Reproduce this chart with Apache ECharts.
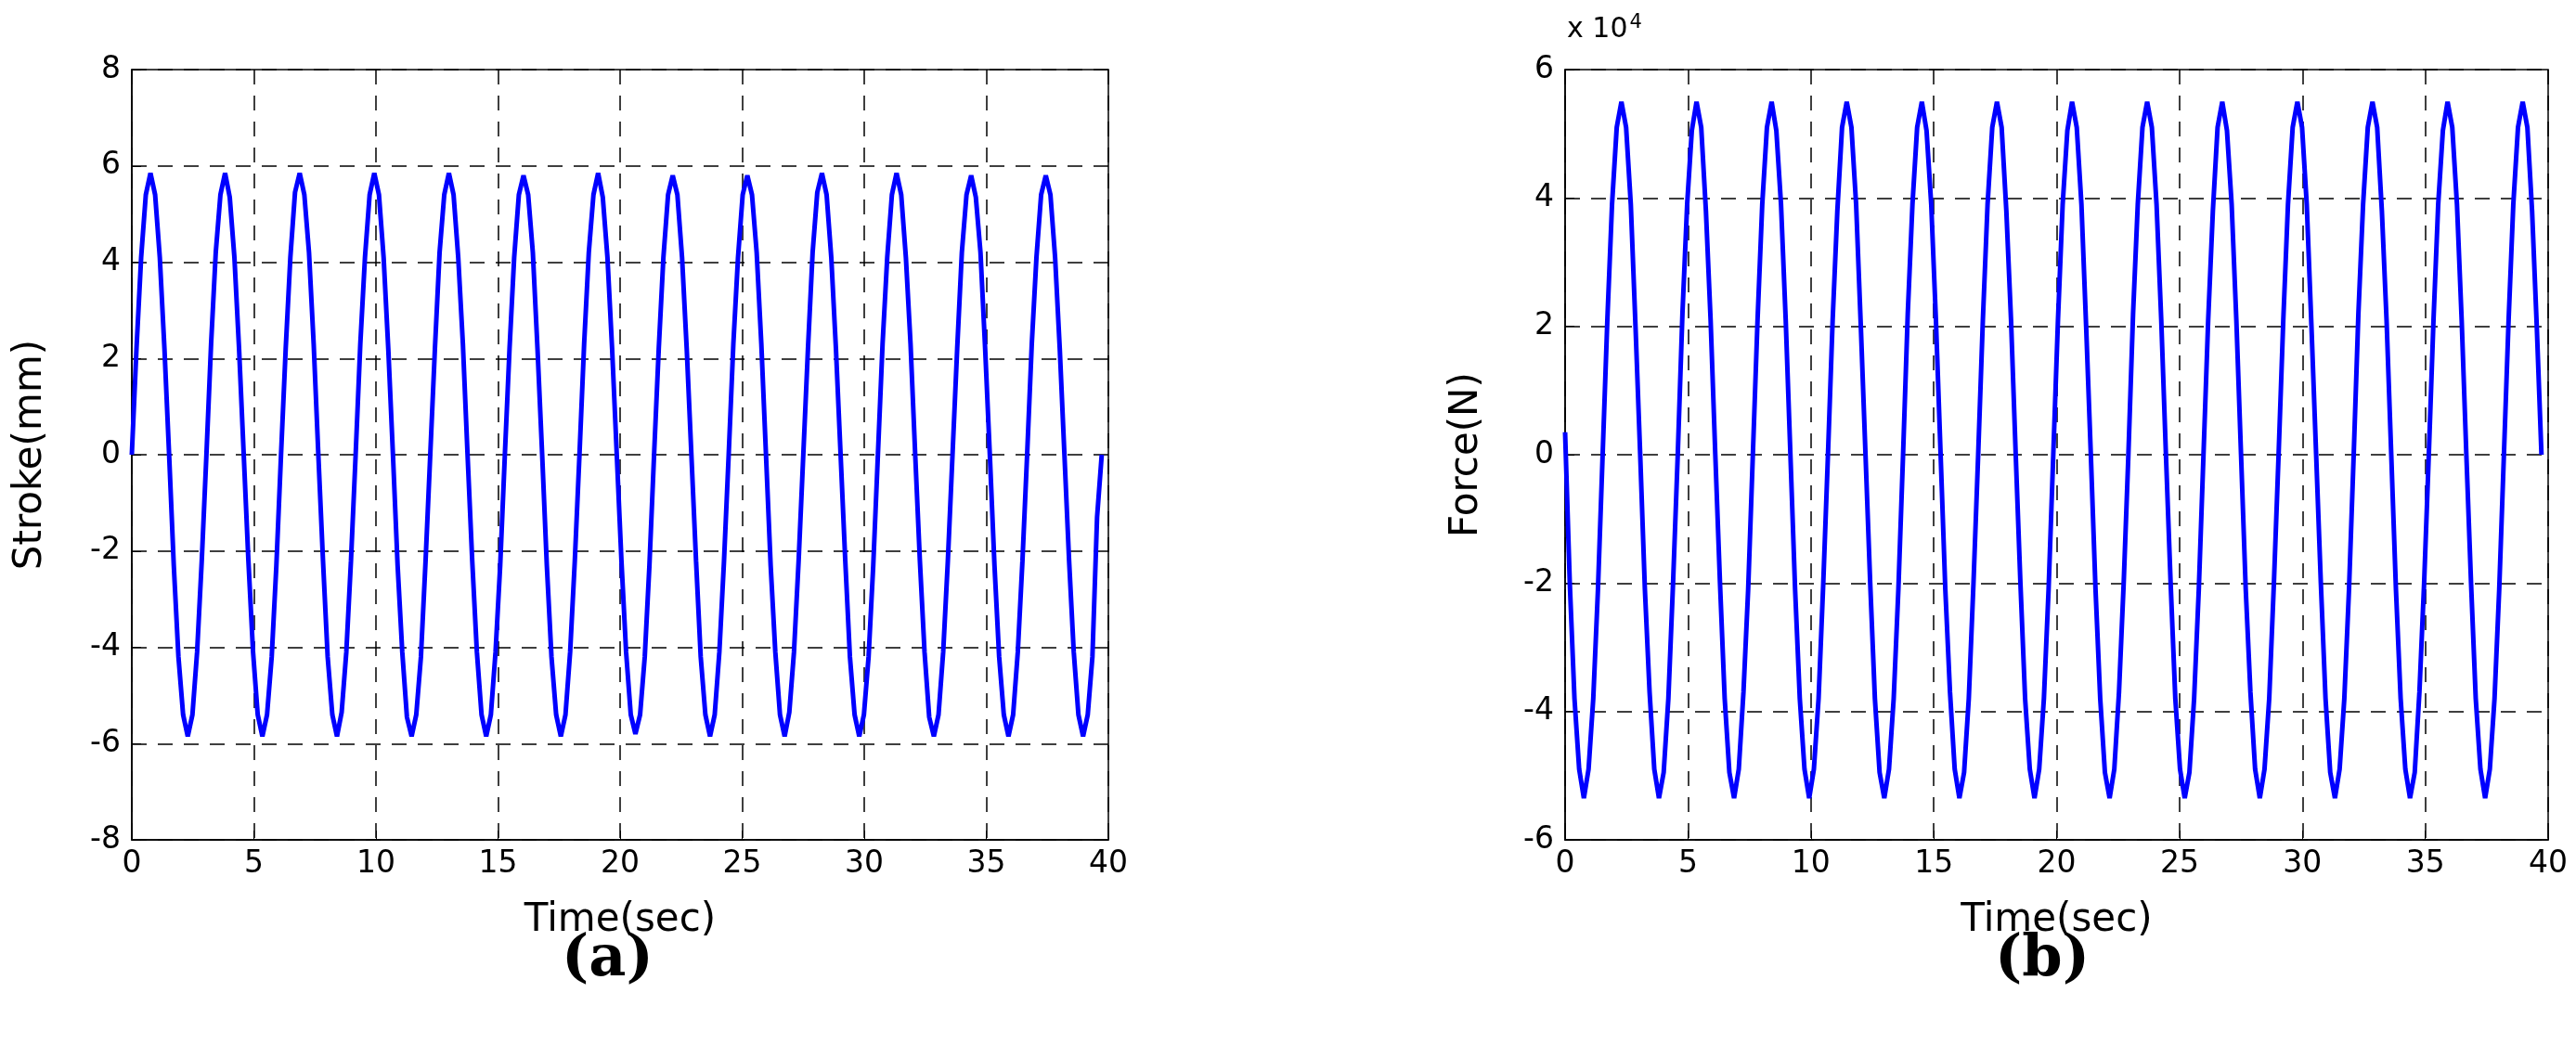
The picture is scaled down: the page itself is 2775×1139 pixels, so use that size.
<!DOCTYPE html>
<html lang="en">
<head>
    <meta charset="UTF-8">
    <title>Stroke / Force</title>
    <script src="https://cdn.jsdelivr.net/npm/echarts@6/dist/echarts.min.js"></script>
    <style>
        html, body { margin: 0; padding: 0; background: #fff; }
        #main { width: 2775px; height: 1139px; }
    </style>
</head>
<body>
<div id="main"></div>
<script type="text/javascript">
    // sampling grid of the recorded signals (sec)
    const sampleStep = 0.191;

    // stroke (mm), one reading per sample
    const strokeValues = [
        0, 2.2, 4.1, 5.4, 5.85, 5.4, 4.1, 2.2, 0, -2.3, -4.2, -5.4, -5.85, -5.4, -4.1, -2.2,
        0, 2.3, 4.2, 5.4, 5.85, 5.35, 4.1, 2.2, 0, -2.2, -4.1, -5.4, -5.85, -5.4, -4.2, -2.3,
        0, 2.2, 4.1, 5.45, 5.85, 5.4, 4.2, 2.3, 0, -2.2, -4.2, -5.4, -5.85, -5.35, -4.1, -2.2,
        0, 2.3, 4.1, 5.4, 5.85, 5.4, 4.1, 2.2, 0, -2.3, -4.1, -5.45, -5.85, -5.4, -4.2, -2.2,
        0, 2.2, 4.2, 5.4, 5.85, 5.4, 4.1, 2.3, 0, -2.2, -4.1, -5.4, -5.85, -5.4, -4.1, -2.3,
        0, 2.2, 4.1, 5.4, 5.8, 5.4, 4.2, 2.2, 0, -2.3, -4.2, -5.4, -5.85, -5.4, -4.1, -2.2,
        0, 2.3, 4.2, 5.4, 5.85, 5.35, 4.1, 2.2, 0, -2.2, -4.1, -5.4, -5.8, -5.4, -4.2, -2.3,
        0, 2.2, 4.1, 5.4, 5.8, 5.4, 4.1, 2.2, 0, -2.2, -4.2, -5.4, -5.85, -5.4, -4.1, -2.2,
        0, 2.3, 4.1, 5.4, 5.8, 5.4, 4.2, 2.3, 0, -2.3, -4.1, -5.4, -5.85, -5.35, -4.1, -2.2,
        0, 2.2, 4.2, 5.45, 5.85, 5.4, 4.1, 2.2, 0, -2.2, -4.2, -5.4, -5.85, -5.4, -4.2, -2.3,
        0, 2.3, 4.1, 5.4, 5.85, 5.4, 4.1, 2.3, 0, -2.2, -4.1, -5.45, -5.85, -5.4, -4.1, -2.2,
        0, 2.2, 4.2, 5.4, 5.8, 5.35, 4.2, 2.2, 0, -2.3, -4.2, -5.4, -5.85, -5.4, -4.1, -2.2,
        0, 2.3, 4.1, 5.4, 5.8, 5.4, 4.1, 2.2, 0, -2.2, -4.1, -5.4, -5.85, -5.4, -4.2, -1.3,
        0
    ];

    // force (x 10^4 N), one reading per sample
    const forceValues = [
        0.35, -2.0, -3.8, -4.9, -5.35, -4.9, -3.8, -2.1, 0, 2.1, 3.9, 5.1, 5.5, 5.1, 3.9, 2.0,
        0, -2.1, -3.7, -4.9, -5.35, -4.95, -3.8, -2.0, 0, 2.2, 3.9, 5.05, 5.5, 5.1, 3.8, 2.1,
        0, -2.0, -3.8, -4.95, -5.35, -4.9, -3.7, -2.1, 0, 2.1, 3.9, 5.1, 5.5, 5.05, 3.9, 2.1,
        0, -2.1, -3.8, -4.9, -5.35, -4.9, -3.8, -2.0, 0, 2.1, 3.8, 5.1, 5.5, 5.1, 3.9, 2.0,
        0, -2.0, -3.8, -4.95, -5.35, -4.9, -3.8, -2.1, 0, 2.2, 3.9, 5.1, 5.5, 5.05, 3.9, 2.1,
        0, -2.1, -3.7, -4.9, -5.35, -4.95, -3.8, -2.0, 0, 2.1, 3.9, 5.1, 5.5, 5.1, 3.8, 2.1,
        0, -2.0, -3.8, -4.9, -5.35, -4.9, -3.8, -2.1, 0, 2.1, 3.9, 5.05, 5.5, 5.1, 3.9, 2.0,
        0, -2.1, -3.8, -4.95, -5.35, -4.9, -3.7, -2.0, 0, 2.2, 3.9, 5.1, 5.5, 5.1, 3.9, 2.1,
        0, -2.0, -3.8, -4.9, -5.35, -4.95, -3.8, -2.1, 0, 2.1, 3.8, 5.1, 5.5, 5.05, 3.9, 2.1,
        0, -2.1, -3.7, -4.9, -5.35, -4.9, -3.8, -2.0, 0, 2.1, 3.9, 5.1, 5.5, 5.1, 3.9, 2.0,
        0, -2.0, -3.8, -4.95, -5.35, -4.9, -3.8, -2.1, 0, 2.2, 3.9, 5.1, 5.5, 5.1, 3.8, 2.1,
        0, -2.1, -3.8, -4.9, -5.35, -4.95, -3.7, -2.0, 0, 2.1, 3.9, 5.05, 5.5, 5.1, 3.9, 2.1,
        0, -2.0, -3.8, -4.9, -5.35, -4.9, -3.8, -2.1, 0, 2.1, 3.9, 5.1, 5.5, 5.1, 3.8, 2.0,
        0
    ];

    const timeTicks = [0, 5, 10, 15, 20, 25, 30, 35, 40];
    const strokeTicks = [-8, -6, -4, -2, 0, 2, 4, 6, 8];
    const forceTicks = [-6, -4, -2, 0, 2, 4, 6];

    function pairs(values) {
        return values.map(function (v, i) {
            return [i * sampleStep, v];
        });
    }

    const tickFont = {fontFamily: 'DejaVu Sans', fontSize: 33, color: '#000'};
    const nameFont = {fontFamily: 'DejaVu Sans', fontSize: 42, color: '#000'};
    const dashed = {show: true, lineStyle: {color: '#000', width: 1.5, type: [16, 12]}};

    function xAxis(gridIndex) {
        return {
            gridIndex: gridIndex,
            type: 'value',
            min: timeTicks[0],
            max: timeTicks[timeTicks.length - 1],
            interval: 5,
            name: 'Time(sec)',
            nameLocation: 'middle',
            nameGap: 66,
            nameTextStyle: nameFont,
            axisLine: {show: true, onZero: false, lineStyle: {color: '#000', width: 1.5}},
            axisTick: {show: true, inside: true, length: 10, lineStyle: {color: '#000'}},
            axisLabel: Object.assign({margin: 10}, tickFont),
            splitLine: dashed
        };
    }

    function yAxis(gridIndex, ticks, name, gap) {
        return {
            gridIndex: gridIndex,
            type: 'value',
            min: ticks[0],
            max: ticks[ticks.length - 1],
            interval: 2,
            name: name,
            nameLocation: 'middle',
            nameGap: gap,
            nameTextStyle: nameFont,
            axisLine: {show: true, lineStyle: {color: '#000', width: 1.5}},
            axisTick: {show: true, inside: true, length: 10, lineStyle: {color: '#000'}},
            axisLabel: Object.assign({margin: 12}, tickFont),
            splitLine: dashed
        };
    }

    function line(index, values) {
        return {
            type: 'line',
            xAxisIndex: index,
            yAxisIndex: index,
            data: pairs(values),
            showSymbol: false,
            animation: false,
            lineStyle: {color: '#0000ff', width: 5}
        };
    }

    let chart = echarts.init(document.getElementById('main'));
    chart.setOption({
        backgroundColor: '#fff',
        animation: false,
        grid: [
            {left: 142, top: 75, width: 1052, height: 830, show: true, borderColor: '#000', borderWidth: 1.5},
            {left: 1686, top: 75, width: 1059, height: 830, show: true, borderColor: '#000', borderWidth: 1.5}
        ],
        xAxis: [xAxis(0), xAxis(1)],
        yAxis: [
            yAxis(0, strokeTicks, 'Stroke(mm)', 88),
            yAxis(1, forceTicks, 'Force(N)', 85)
        ],
        series: [line(0, strokeValues), line(1, forceValues)],
        graphic: [
            {
                type: 'text', left: 1688, top: 14,
                style: {
                    text: '{a|x 10}{b|4}',
                    rich: {
                        a: {fontFamily: 'DejaVu Sans', fontSize: 30, fill: '#000'},
                        b: {fontFamily: 'DejaVu Sans', fontSize: 21, fill: '#000', verticalAlign: 'top', padding: [0, 0, 16, 2]}
                    }
                }
            },
            {
                type: 'text', left: 605, top: 1004,
                style: {text: '(a)', fontFamily: 'DejaVu Serif', fontWeight: 'bold', fontSize: 62, fill: '#000'}
            },
            {
                type: 'text', left: 2149, top: 1004,
                style: {text: '(b)', fontFamily: 'DejaVu Serif', fontWeight: 'bold', fontSize: 62, fill: '#000'}
            }
        ]
    });
</script>
</body>
</html>
